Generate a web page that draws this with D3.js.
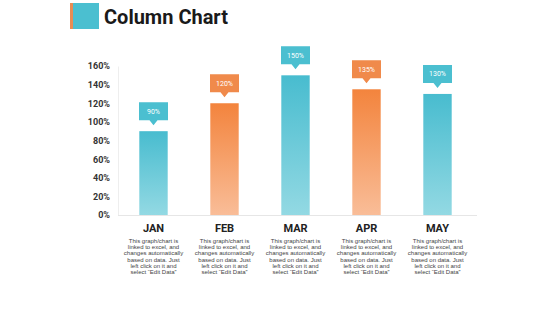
<!DOCTYPE html>
<html>
<head>
<meta charset="utf-8">
<script src="https://cdn.jsdelivr.net/npm/d3@7"></script>
<style>
  body { margin: 0; background: #fff; }
</style>
</head>
<body>
<div id="chart"></div>
<script>
// Column chart with callout labels

const width = 560,
    height = 315,
    margin = ({ top: 66, right: 87, bottom: 100, left: 118 });

const months = ["JAN", "FEB", "MAR", "APR", "MAY"];
const values = [90, 120, 150, 135, 130];
const colorKeys = ["teal", "orange", "teal", "orange", "teal"];
const yTicks = [0, 20, 40, 60, 80, 100, 120, 140, 160];
const noteLines = ["This graph/chart is", "linked to excel, and", "changes automatically",
  "based on data. Just", "left click on it and", "select \u201cEdit Data\u201d"];

const svg = d3.select("#chart")
  .append("svg")
  .attr("width", width)
  .attr("height", height)
  .attr("font-family", "Roboto, sans-serif");

// gradients, dark at top and light at bottom
const defs = svg.append("defs");
const grads = { teal: ["#48bccf", "#93d9e3"], orange: ["#f3843d", "#f9bd98"] };
Object.entries(grads).forEach(([k, c]) => {
  const g = defs.append("linearGradient")
    .attr("id", "g-" + k)
    .attr("x1", 0).attr("y1", 0).attr("x2", 0).attr("y2", 1);
  g.append("stop").attr("offset", "0%").attr("stop-color", c[0]);
  g.append("stop").attr("offset", "100%").attr("stop-color", c[1]);
});

// title block
svg.append("rect").attr("x", 70).attr("y", 3).attr("width", 29).attr("height", 26).attr("fill", "#4bbfd0");
svg.append("rect").attr("x", 70).attr("y", 3).attr("width", 3).attr("height", 26).attr("fill", "#e98c54");
svg.append("text")
  .attr("x", 104).attr("y", 24)
  .attr("font-size", 20).attr("font-weight", "bold")
  .attr("fill", "#1a1a1a")
  .text("Column Chart");

const x = d3.scaleBand()
  .domain(months)
  .range([margin.left, width - margin.right])
  .paddingInner(0.6)
  .paddingOuter(0.3);

const y = d3.scaleLinear()
  .domain([0, 160])
  .range([height - margin.bottom, margin.top]);

// y axis
svg.append("g")
  .attr("transform", `translate(${margin.left},0)`)
  .call(d3.axisLeft(y).tickValues(yTicks).tickFormat(d => d + "%").tickSize(0).tickPadding(8))
  .call(g => g.attr("font-family", null))
  .call(g => g.select(".domain").attr("stroke", "#eeeeee"))
  .call(g => g.selectAll("text").attr("font-size", 9).attr("font-weight", "bold").attr("fill", "#333"));

// baseline
svg.append("line")
  .attr("x1", margin.left).attr("x2", width - margin.right + 4)
  .attr("y1", y(0) + 0.5).attr("y2", y(0) + 0.5)
  .attr("stroke", "#e6e6e6");

const data = months.map((m, i) => ({ m, v: values[i], c: colorKeys[i] }));

const g = svg.append("g").selectAll("g")
  .data(data)
  .join("g");

g.append("rect")
  .attr("x", d => x(d.m))
  .attr("y", d => y(d.v))
  .attr("width", x.bandwidth())
  .attr("height", d => y(0) - y(d.v))
  .attr("fill", d => `url(#g-${d.c})`);

// callout boxes
const boxFill = { teal: "#4bbfd0", orange: "#f08a4b" };
g.append("path")
  .attr("d", d => {
    const cx = x(d.m) + x.bandwidth() / 2,
      top = y(d.v) - 29, bot = y(d.v) - 11, hw = 14.5;
    return `M${cx - hw},${top}H${cx + hw}V${bot}H${cx + 4}L${cx},${bot + 5}L${cx - 4},${bot}H${cx - hw}Z`;
  })
  .attr("fill", d => boxFill[d.c]);

g.append("text")
  .attr("x", d => x(d.m) + x.bandwidth() / 2)
  .attr("y", d => y(d.v) - 17.5)
  .attr("text-anchor", "middle")
  .attr("font-size", 7)
  .attr("fill", "#fff")
  .text(d => d.v + "%");

// month labels
g.append("text")
  .attr("x", d => x(d.m) + x.bandwidth() / 2)
  .attr("y", 232)
  .attr("text-anchor", "middle")
  .attr("font-size", 11)
  .attr("font-weight", "bold")
  .attr("fill", "#222")
  .text(d => d.m);

// description text
g.each(function(d) {
  const t = d3.select(this).append("text")
    .attr("text-anchor", "middle")
    .attr("font-family", "Liberation Sans, Arial, sans-serif")
    .attr("font-size", 6)
    .attr("fill", "#444");
  noteLines.forEach((line, i) => {
    t.append("tspan")
      .attr("x", x(d.m) + x.bandwidth() / 2)
      .attr("y", 243 + i * 6.2)
      .text(line);
  });
});
</script>
</body>
</html>
